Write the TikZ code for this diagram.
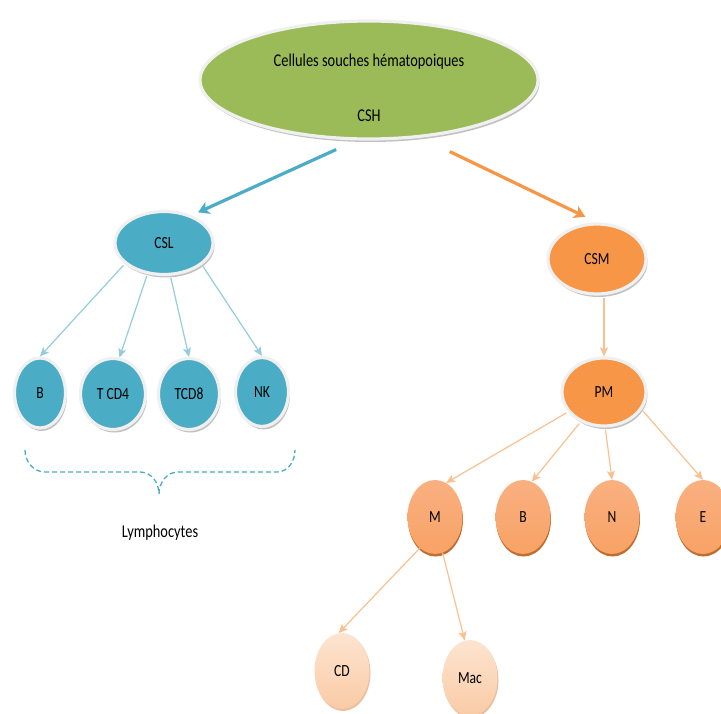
\documentclass[tikz,border=0pt]{standalone}
\usepackage{fontspec}
\setmainfont{Carlito}
\usepackage{graphicx}
\usetikzlibrary{arrows.meta, shapes.geometric, shadows}

\definecolor{vert}{HTML}{9BBB59}
\definecolor{bleu}{HTML}{4BACC6}
\definecolor{bleuclair}{HTML}{93CDDD}
\definecolor{orangec}{HTML}{F79646}
\definecolor{orangeclair}{HTML}{FAC090}
\definecolor{orangehaut}{HTML}{F9B080}
\definecolor{orangebas}{HTML}{F8A266}
\definecolor{orangeombre}{HTML}{B85E18}
\definecolor{pechehaut}{HTML}{FDE4D0}
\definecolor{peche}{HTML}{F9CBA6}
\definecolor{pecheombre}{HTML}{E5B08A}
\newcommand{\etroit}[1]{\scalebox{0.8}[1]{#1}}

\tikzset{
	cell/.style={ellipse, inner sep=0pt, draw=gray!12, line width=3.2pt,
		font=\fontsize{17}{20}\selectfont,
		drop shadow={shadow xshift=1.5pt, shadow yshift=-3pt, fill=gray!60, opacity=0.8}},
	myelo/.style={ellipse, inner sep=0pt, minimum width=55pt, minimum height=74pt,
		font=\fontsize{17}{20}\selectfont,
		top color=orangehaut, middle color=orangec, bottom color=orangebas,
		drop shadow={shadow xshift=0.5pt, shadow yshift=-2.5pt, fill=orangeombre, opacity=0.9}},
	mono/.style={ellipse, inner sep=0pt, minimum width=55pt, minimum height=76pt,
		font=\fontsize{17}{20}\selectfont,
		top color=pechehaut, bottom color=peche,
		drop shadow={shadow xshift=1pt, shadow yshift=-2pt, fill=pecheombre, opacity=0.8}},
	thinblue/.style={bleuclair, line width=1.2pt, -{Stealth[length=9pt, width=8pt, inset=2pt]}},
	thinorange/.style={orangeclair, line width=1.2pt, -{Stealth[length=9pt, width=8pt, inset=2pt]}},
	thick arrow/.style={line width=3.2pt, -{Stealth[length=11pt, width=13pt, inset=3pt]}}
}

\begin{document}
\begin{tikzpicture}[x=1pt, y=1pt]
	\useasboundingbox (0,0) rectangle (721,-714);
	%stem cells
	\node[cell, fill=vert, minimum width=338pt, minimum height=118pt] (csh) at (369,-80) {};
	\node[font=\fontsize{18}{20}\selectfont] (cshtitle) at (369,-62) {\etroit{Cellules souches hématopoiques}};
	\node[font=\fontsize{18}{20}\selectfont] (cshname) at (369,-116) {\etroit{CSH}};
	%lymphoid branch
	\node[cell, fill=bleu, minimum width=98pt, minimum height=63pt] (csl) at (164,-243) {\etroit{CSL}};
	\node[cell, fill=bleu, minimum width=51pt, minimum height=70pt] (lb) at (40,-393) {\etroit{B}};
	\node[cell, fill=bleu, minimum width=65pt, minimum height=71pt] (tcd4) at (113,-394) {\etroit{T CD4}};
	\node[cell, fill=bleu, minimum width=61pt, minimum height=71pt] (tcd8) at (189,-394) {\etroit{TCD8}};
	\node[cell, fill=bleu, minimum width=53pt, minimum height=69pt] (nk) at (262,-392) {\etroit{NK}};
	%myeloid branch
	\node[cell, fill=orangec, minimum width=98pt, minimum height=70pt] (csm) at (597,-259) {\etroit{CSM}};
	\node[cell, fill=orangec, minimum width=84pt, minimum height=68pt] (pm) at (604,-392) {\etroit{PM}};
	\node[myelo] (m) at (435,-517) {\etroit{M}};
	\node[myelo] (mb) at (523,-517) {\etroit{B}};
	\node[myelo] (n) at (612,-517) {\etroit{N}};
	\node[myelo] (e) at (703,-517) {\etroit{E}};
	\node[mono] (cd) at (342,-671) {\etroit{CD}};
	\node[mono] (mac) at (470,-678) {\etroit{Mac}};
	%arrows
	\draw[thick arrow, bleu, shorten <=22pt, shorten >=7pt] (csh.258) -- (csl.45);
	\draw[thick arrow, orangec, shorten <=32pt, shorten >=13pt] (csh.312) -- (csm.north);
	\draw[thinblue, shorten <=2pt] (csl.208) -- (lb.north);
	\draw[thinblue, shorten <=2pt] (csl.242) -- (tcd4.80);
	\draw[thinblue, shorten <=2pt] (csl.281) -- (tcd8.north);
	\draw[thinblue, shorten <=2pt] (csl.330) -- (nk.north);
	\draw[thinorange, shorten <=2pt] (pm.north |- csm.south) -- (pm.north);
	\draw[thinorange, shorten <=2pt] (pm.209) -- (m.72);
	\draw[thinorange, shorten <=2pt] (pm.232) -- (mb.76);
	\draw[thinorange, shorten <=2pt] (pm.272) -- (n.north);
	\draw[thinorange, shorten <=2pt] (pm.335) -- (e.north);
	\draw[thinorange] (m.244) -- (cd.95);
	\draw[thinorange] (m.282) -- (mac.98);
	%lymphocytes brace
	\draw[bleu, line width=1.3pt, dash pattern=on 5pt off 3pt]
		(25,-450) to[out=-90, in=180] (45,-472) -- (140,-472)
		to[out=0, in=90] (159,-494);
	\draw[bleu, line width=1.3pt, dash pattern=on 5pt off 3pt]
		(159,-494) to[out=90, in=180] (178,-472) -- (277,-472)
		to[out=0, in=-90] (295,-450);
	\node[font=\fontsize{18}{20}\selectfont] (lympho) at (160,-533) {\etroit{Lymphocytes}};
\end{tikzpicture}
\end{document}
